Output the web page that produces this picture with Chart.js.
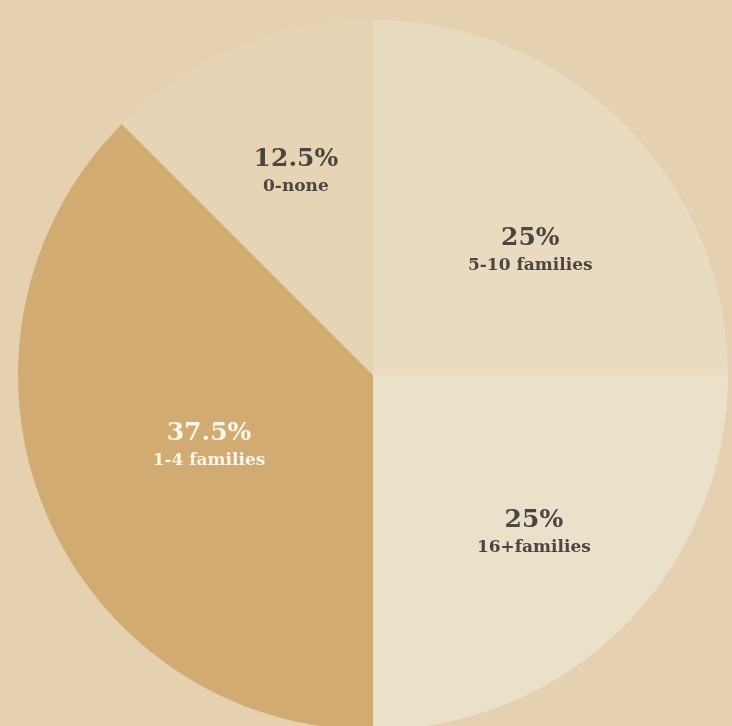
<!DOCTYPE html>
<html>
<head>
<meta charset="utf-8">
<script src="https://cdn.jsdelivr.net/npm/chart.js@4/dist/chart.umd.min.js"></script>
<style>
  html, body { margin: 0; padding: 0; overflow: hidden; background: #e5d1b0; }
  #wrap { position: absolute; left: 0; top: 0; width: 746px; height: 750px; }
</style>
</head>
<body>
<div id="wrap"><canvas id="familiesChart" width="746" height="750"></canvas></div>
<script>
// share of respondents by number of families, clockwise from 12 o'clock
const categories = ['5-10 families', '16+families', '1-4 families', '0-none'];
const shares = [25, 25, 37.5, 12.5];
const valueLabels = ['25%', '25%', '37.5%', '12.5%'];

const sliceColors = ['#e9dbbf', '#ebe0ca', '#d2ab72', '#e6d4b5'];
const textColors = ['#4b4641', '#4b4641', '#fbf5ea', '#4b4641'];
// where each label block sits inside its slice
const labelRadius = [0.57, 0.63, 0.50, 0.62];
const labelTurn = [6, -1, 0, 2];

const sliceLabels = {
    id: 'sliceLabels',
    afterDatasetsDraw(chart) {
        const ctx = chart.ctx;
        const meta = chart.getDatasetMeta(0);
        meta.data.forEach((arc, i) => {
            const p = arc.getProps(['x', 'y', 'startAngle', 'endAngle', 'outerRadius'], true);
            const mid = (p.startAngle + p.endAngle) / 2 + labelTurn[i] * Math.PI / 180;
            const r = p.outerRadius * labelRadius[i];
            const cx = p.x + Math.cos(mid) * r;
            const cy = p.y + Math.sin(mid) * r;
            ctx.save();
            ctx.fillStyle = textColors[i];
            ctx.textAlign = 'center';
            ctx.textBaseline = 'alphabetic';
            ctx.font = 'bold 25px "DejaVu Serif"';
            ctx.fillText(valueLabels[i], cx, cy - 3);
            ctx.font = '600 17px "DejaVu Serif"';
            ctx.fillText(categories[i], cx, cy + 22);
            ctx.restore();
        });
    }
};

new Chart(document.getElementById('familiesChart'), {
    type: 'pie',
    data: {
        labels: categories,
        datasets: [{
            data: shares,
            backgroundColor: sliceColors,
            borderWidth: 0
        }]
    },
    options: {
        responsive: false,
        animation: false,
        layout: { padding: 18 },
        plugins: {
            legend: { display: false },
            tooltip: { enabled: false }
        }
    },
    plugins: [sliceLabels]
});
</script>
</body>
</html>
